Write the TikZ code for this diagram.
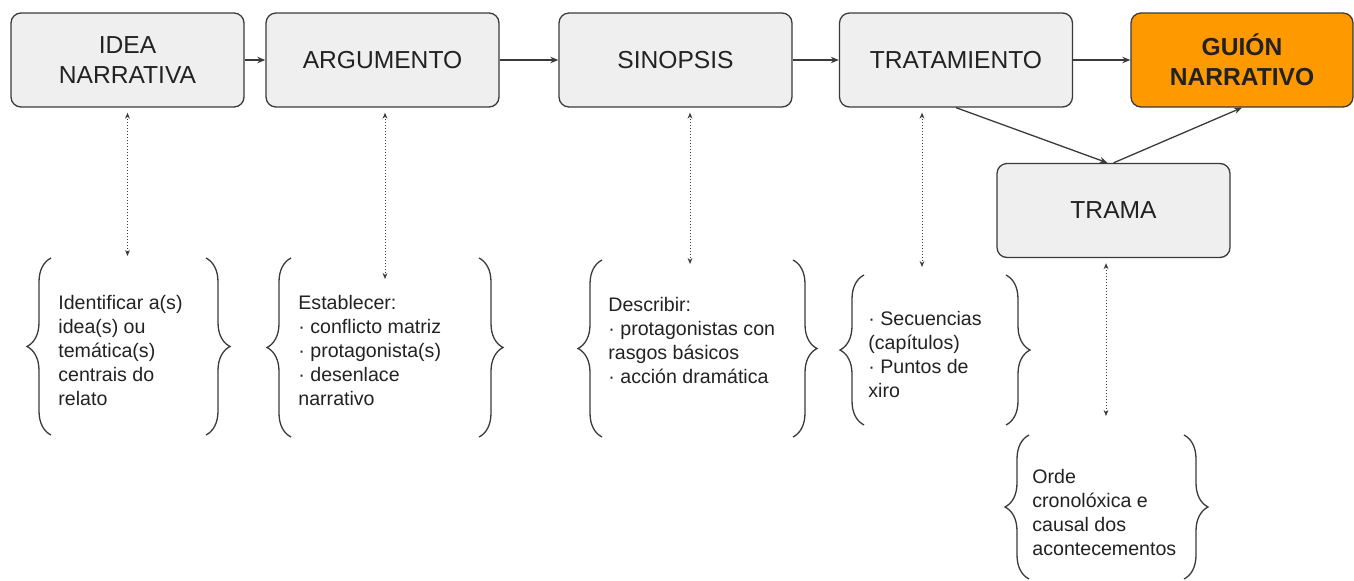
\documentclass[tikz,border=0pt]{standalone}
\usepackage{fontspec}
\setmainfont{Liberation Sans}
\usepackage{xcolor}
\usetikzlibrary{arrows.meta,decorations.pathreplacing}
\definecolor{BoxGray}{HTML}{EFEFEF}
\definecolor{EdgeGray}{HTML}{3A3A3A}
\definecolor{GuionOrange}{HTML}{FF9900}
\definecolor{TextGray}{HTML}{222222}

\begin{document}
\begin{tikzpicture}[x=0.5pt,y=0.5pt,
  stage/.style={draw=EdgeGray, line width=0.65pt, fill=BoxGray, rounded corners=5pt,
    minimum width=116.5pt, minimum height=47pt, inner sep=0pt, align=center,
    text=TextGray, font=\fontsize{12.3}{15}\selectfont},
  notes/.style={anchor=base west, align=left, inner sep=0pt, text=TextGray,
    font=\fontsize{9.8}{12}\selectfont},
  flow/.style={draw=EdgeGray, line width=0.65pt, -{Stealth[length=4pt,width=3.2pt]}},
  link/.style={draw=EdgeGray, densely dotted, line width=0.5pt,
    {Stealth[length=3pt,width=2.4pt]}-{Stealth[length=3pt,width=2.4pt]}},
  curly/.style={draw=EdgeGray, line width=0.65pt, decorate, decoration={brace, amplitude=12pt}}]
\useasboundingbox (0,0) rectangle (1354,-580);
%
\node[stage] (idea) at (127.5,-60) {IDEA\\NARRATIVA};
\node[stage] (argumento) at (382.5,-60) {ARGUMENTO};
\node[stage] (sinopsis) at (675.5,-60) {SINOPSIS};
\node[stage] (tratamiento) at (956,-60) {TRATAMIENTO};
\node[stage, fill=GuionOrange, minimum width=111pt, font=\fontsize{12.3}{15}\selectfont\bfseries] (guion) at (1242,-60) {GUIÓN\\NARRATIVO};
\node[stage] (trama) at (1113.5,-210.5) {TRAMA};
%
\draw[flow] (idea) -- (argumento);
\draw[flow] (argumento) -- (sinopsis);
\draw[flow] (sinopsis) -- (tratamiento);
\draw[flow] (tratamiento) -- (guion);
\draw[flow] (tratamiento.south) -- ([xshift=-3pt]trama.north);
\draw[flow] (trama.north) -- (guion.south);
%
% base anchor sits on the last line
\node[notes] (ideatext) at (58,-405) {Identificar a(s)\\idea(s) ou\\temática(s)\\centrais do\\relato};
\node[notes] (argumentotext) at (298,-405) {Establecer:\\· conflicto matriz\\· protagonista(s)\\· desenlace\\narrativo};
\node[notes] (sinopsistext) at (608,-383) {Describir:\\· protagonistas con\\rasgos básicos\\· acción dramática};
\node[notes] (tratamientotext) at (868,-397) {· Secuencias\\(capítulos)\\· Puntos de\\xiro};
\node[notes] (tramatext) at (1032,-555) {Orde\\cronolóxica e\\causal dos\\acontecementos};
%
\draw[curly] (51,-435) -- (51,-258);
\draw[curly] (206,-258) -- (206,-435);
\draw[curly] (291,-437) -- (291,-258);
\draw[curly] (479,-258) -- (479,-437);
\draw[curly] (602,-437) -- (602,-260);
\draw[curly] (793,-260) -- (793,-437);
\draw[curly] (864,-425) -- (864,-275);
\draw[curly] (1006,-275) -- (1006,-425);
\draw[curly] (1029,-579) -- (1029,-435);
\draw[curly] (1184,-435) -- (1184,-579);
%
\coordinate (ideaend) at (127.5,-256);
\coordinate (argumentoend) at (385,-279);
\coordinate (sinopsisend) at (690,-264);
\coordinate (tratamientoend) at (922,-267);
\coordinate (tramaend) at (1106,-416);
\draw[link] ([yshift=-2.5pt]idea.south) -- (ideaend);
\draw[link] ([yshift=-2.5pt]argumento.south -| argumentoend) -- (argumentoend);
\draw[link] ([yshift=-2.5pt]sinopsis.south -| sinopsisend) -- (sinopsisend);
\draw[link] ([yshift=-2.5pt]tratamiento.south -| tratamientoend) -- (tratamientoend);
\draw[link] ([yshift=-2.5pt]trama.south -| tramaend) -- (tramaend);
\end{tikzpicture}
\end{document}
